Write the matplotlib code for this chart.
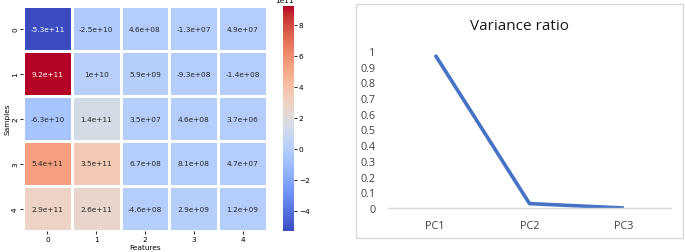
import numpy as np
import matplotlib
matplotlib.use("Agg")
import matplotlib.pyplot as plt
import seaborn as sns
from matplotlib.patches import Rectangle

# Heatmap data
samples = ["0", "1", "2", "3", "4"]
features = ["0", "1", "2", "3", "4"]
row0 = [-5.3e11, -2.5e10, 4.6e8, -1.3e7, 4.9e7]
row1 = [9.2e11, 1e10, 5.9e9, -9.3e8, -1.4e8]
row2 = [-6.3e10, 1.4e11, 3.5e7, 4.6e8, 3.7e6]
row3 = [5.4e11, 3.5e11, 6.7e8, 8.1e8, 4.7e7]
row4 = [2.9e11, 2.6e11, -4.6e8, 2.9e9, 1.2e9]

# Variance ratio data
components = ["PC1", "PC2", "PC3"]
variance_ratio = [0.975, 0.028, 0.0]
y_ticks = [0, 0.1, 0.2, 0.3, 0.4, 0.5, 0.6, 0.7, 0.8, 0.9, 1]
y_tick_labels = ["0", "0.1", "0.2", "0.3", "0.4", "0.5", "0.6", "0.7", "0.8", "0.9", "1"]

W, H = 685, 253
fig = plt.figure(figsize=(W / 100, H / 100), dpi=100)

def fx(px):
    return px / W

def fy(py):
    return 1 - py / H

fs = 5.3
data = np.array([row0, row1, row2, row3, row4])
ax = fig.add_axes([fx(23), fy(232), fx(244), (232 - 7) / H])
cax = fig.add_axes([fx(283), fy(232), fx(11), (232 - 7) / H])
sns.heatmap(data, ax=ax, cbar_ax=cax, cmap="coolwarm", annot=True, fmt=".2g",
            linewidths=0.8, linecolor="white", xticklabels=features,
            yticklabels=samples, annot_kws={"fontsize": fs})
ax.set_xlabel("Features", fontsize=fs, labelpad=1.5)
ax.set_ylabel("Samples", fontsize=fs, labelpad=1.5)
ax.tick_params(labelsize=fs, length=2, pad=1.5, width=0.6)
cax.tick_params(labelsize=fs, length=2, pad=1.5, width=0.6)
cax.yaxis.get_offset_text().set_fontsize(fs)
for sp in cax.spines.values():
    sp.set_visible(False)

# Right chart
fam = ["Open Sans", "DejaVu Sans"]
fig.patches.append(Rectangle((fx(356), fy(239)), fx(683 - 356), (239 - 5) / H,
                             transform=fig.transFigure, fill=False,
                             edgecolor="#d9d9d9", linewidth=1))
ax2 = fig.add_axes([fx(388), fy(209), fx(283), 157 / H])
x = np.arange(len(components)) + 0.5
ax2.plot(x, variance_ratio, color="#4472C4", linewidth=2.6, solid_capstyle="butt")
ax2.set_xlim(0, 3)
ax2.set_ylim(0, 1)
for s in ["top", "right", "left"]:
    ax2.spines[s].set_visible(False)
ax2.spines["bottom"].set_color("#d9d9d9")
ax2.spines["bottom"].set_linewidth(1)
ax2.set_xticks(x)
ax2.set_xticklabels(components, fontsize=7.8, family=fam, color="#404040")
ax2.set_yticks(y_ticks)
ax2.set_yticklabels(y_tick_labels, fontsize=7.8, family=fam, color="#404040")
ax2.tick_params(axis="both", length=0)
ax2.tick_params(axis="y", pad=9)
ax2.tick_params(axis="x", pad=9)
fig.text(fx(520), fy(26), "Variance ratio", ha="center", va="center",
         fontsize=11, family=fam, color="#1a1a1a")

fig.savefig("out.png", dpi=100)
